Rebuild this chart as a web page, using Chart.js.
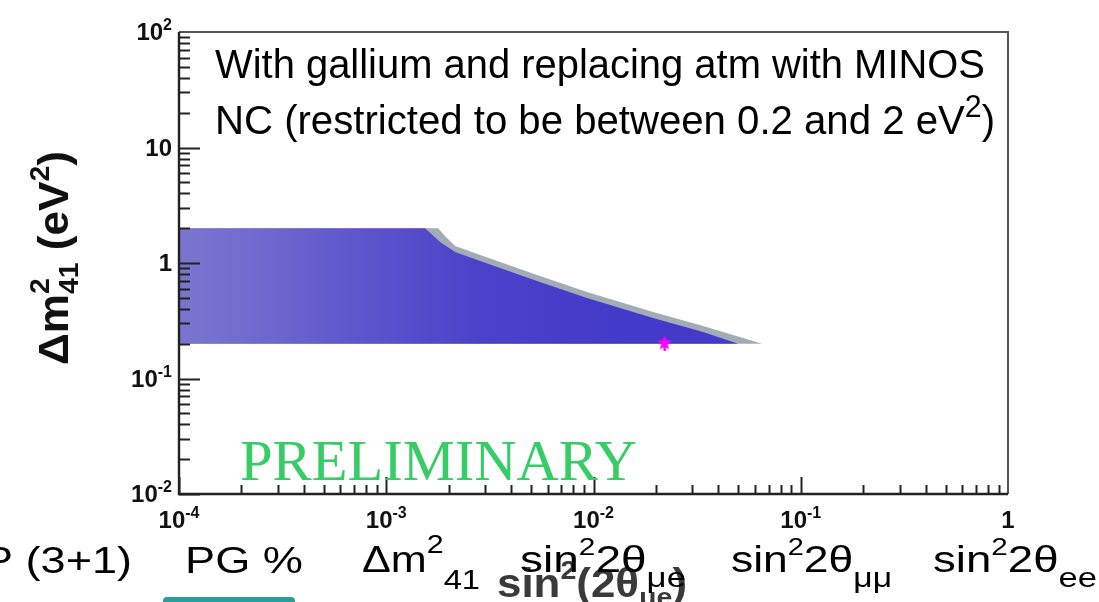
<!DOCTYPE html>
<html><head><meta charset="utf-8">
<script src="https://cdn.jsdelivr.net/npm/chart.js@4.4.1/dist/chart.umd.min.js"></script>
<style>html,body{margin:0;padding:0;background:#fff;overflow:hidden}canvas{display:block}</style>
</head><body>
<canvas id="c" width="1099" height="602"></canvas>
<script>
// ---- data ----
// outer (grey) edge of the allowed region: sin^2(2theta_mue) vs dm^2_41
const outerEdgeX = [1e-4, 1.78e-3, 1.92e-3, 2.15e-3, 2.84e-3, 5.34e-3, 9.3e-3, 0.0194, 0.0338, 0.0588, 0.065];
const outerEdgeY = [2, 2, 1.71, 1.40, 1.17, 0.787, 0.561, 0.377, 0.285, 0.211, 0.2];
// inner (blue) edge
const innerEdgeX = [1e-4, 1.54e-3, 1.82e-3, 2.15e-3, 2.84e-3, 5.34e-3, 9.3e-3, 0.0194, 0.0338, 0.0498];
const innerEdgeY = [2, 2, 1.52, 1.245, 1.04, 0.698, 0.498, 0.334, 0.253, 0.2];
const lowerBound = 0.2;
// best fit point
const bestFitX = [0.022];
const bestFitY = [0.205];
// axes
const xRange = [1e-4, 1];
const yRange = [1e-2, 1e2];
const xTickValues = [1e-4, 1e-3, 1e-2, 1e-1, 1];
const xTickLabels = [["10","-4"],["10","-3"],["10","-2"],["10","-1"],["1",""]];
const yTickValues = [1e-2, 1e-1, 1, 10, 100];
const yTickLabels = [["10","-2"],["10","-1"],["1",""],["10",""],["10","2"]];

// ---- styles ----
const SANS = '"Liberation Sans", Arial, Helvetica, sans-serif';
const SERIF = '"Liberation Serif", "Times New Roman", serif';
const BLUE = [67, 56, 201];
const SPECKLE = [205, 211, 216];
const GREY = '#a2acb6';
const speckleStopsX = [1e-4, 2e-4, 4e-4, 8e-4, 1.5e-3, 3e-3, 6e-3, 1.5e-2];
const speckleMix = [0.40, 0.34, 0.26, 0.18, 0.12, 0.06, 0.03, 0.01];

function mixColor(f) {
  const c = BLUE.map((b, i) => Math.round(b * (1 - f) + SPECKLE[i] * f));
  return `rgb(${c[0]},${c[1]},${c[2]})`;
}

function blueFill(ctx) {
  const ch = ctx.chart;
  if (!ch.chartArea) return mixColor(0);
  const xs = ch.scales.x;
  const p0 = xs.getPixelForValue(speckleStopsX[0]);
  const p1 = xs.getPixelForValue(speckleStopsX[speckleStopsX.length - 1]);
  const g = ch.ctx.createLinearGradient(p0, 0, p1, 0);
  speckleStopsX.forEach((v, i) => {
    g.addColorStop((xs.getPixelForValue(v) - p0) / (p1 - p0), mixColor(speckleMix[i]));
  });
  return g;
}

// star marker
const starImg = document.createElement('canvas');
starImg.width = 18; starImg.height = 18;
(function () {
  const s = starImg.getContext('2d');
  s.fillStyle = '#ff00ff';
  s.beginPath();
  for (let i = 0; i < 10; i++) {
    const r = i % 2 === 0 ? 8 : 3.4;
    const a = -Math.PI / 2 + i * Math.PI / 5;
    const px = 9 + r * Math.cos(a), py = 9.5 + r * Math.sin(a);
    if (i === 0) s.moveTo(px, py); else s.lineTo(px, py);
  }
  s.closePath(); s.fill();
  s.fillRect(8, 10, 2.5, 8);
})();

// ---- text helper ----
function drawRuns(ctx, list, x0, y0, opts) {
  opts = opts || {};
  ctx.save();
  ctx.fillStyle = opts.color || '#000';
  ctx.textBaseline = 'alphabetic';
  ctx.textAlign = 'left';
  const adv = [];
  let pending = 0;
  list.forEach(r => {
    ctx.font = r.f;
    const w = ctx.measureText(r.t).width;
    if (r.stack) { adv.push(0); pending = w; }
    else { adv.push(Math.max(w, pending)); pending = 0; }
  });
  const total = adv.reduce((a, b) => a + b, 0);
  const s = opts.width ? opts.width / total : 1;
  let sx = x0;
  if (opts.align === 'center') sx = x0 - total * s / 2;
  if (opts.align === 'right') sx = x0 - total * s;
  ctx.translate(sx, y0);
  if (opts.rotate) ctx.rotate(opts.rotate);
  ctx.scale(s, 1);
  let x = 0;
  list.forEach((r, i) => {
    ctx.font = r.f;
    ctx.fillText(r.t, x, r.dy || 0);
    x += adv[i];
  });
  ctx.restore();
}

const decor = {
  id: 'decor',
  afterDraw(chart) {
    const ctx = chart.ctx;
    const a = chart.chartArea;
    const xs = chart.scales.x, ys = chart.scales.y;

    // frame (top/right thinner grey)
    ctx.save();
    ctx.strokeStyle = '#555';
    ctx.lineWidth = 2;
    ctx.beginPath();
    ctx.moveTo(a.left, a.top); ctx.lineTo(a.right, a.top); ctx.lineTo(a.right, a.bottom);
    ctx.stroke();
    ctx.strokeStyle = '#222';
    ctx.lineWidth = 2.4;
    ctx.beginPath();
    ctx.moveTo(a.left, a.top); ctx.lineTo(a.left, a.bottom); ctx.lineTo(a.right, a.bottom);
    ctx.stroke();

    // ticks
    ctx.lineWidth = 2;
    ctx.beginPath();
    for (let d = Math.log10(yRange[0]); d < Math.log10(yRange[1]); d++) {
      for (let m = 1; m <= 9; m++) {
        const py = Math.round(ys.getPixelForValue(m * Math.pow(10, d))) + 0.5;
        ctx.moveTo(a.left, py); ctx.lineTo(a.left + (m === 1 ? 21 : 11), py);
      }
    }
    for (let d = Math.log10(xRange[0]); d < Math.log10(xRange[1]); d++) {
      for (let m = 1; m <= 9; m++) {
        const px = Math.round(xs.getPixelForValue(m * Math.pow(10, d))) + 0.5;
        ctx.moveTo(px, a.bottom); ctx.lineTo(px, a.bottom - (m === 1 ? 17 : 9));
      }
    }
    ctx.stroke();
    ctx.restore();

    // tick labels
    const big = 'bold 24px ' + SANS, small = 'bold 16px ' + SANS;
    xTickValues.forEach((v, i) => {
      const [b, e] = xTickLabels[i];
      const list = [{t: b, f: big}];
      if (e) list.push({t: e, f: small, dy: -10});
      drawRuns(ctx, list, xs.getPixelForValue(v), 528, {align: 'center', color: '#111'});
    });
    yTickValues.forEach((v, i) => {
      const [b, e] = yTickLabels[i];
      const list = [{t: b, f: big}];
      if (e) list.push({t: e, f: small, dy: -10});
      drawRuns(ctx, list, a.left - 7, ys.getPixelForValue(v) + 8, {align: 'right', color: '#111'});
    });

    // y axis title (rotated)
    drawRuns(ctx, [
      {t: 'Δm', f: 'bold 42px ' + SANS},
      {t: '2', f: 'bold 27px ' + SANS, dy: -19, stack: true},
      {t: '41', f: 'bold 27px ' + SANS, dy: 10},
      {t: ' (eV', f: 'bold 42px ' + SANS},
      {t: '2', f: 'bold 27px ' + SANS, dy: -19},
      {t: ')', f: 'bold 42px ' + SANS}
    ], 68, 365, {rotate: -Math.PI / 2, width: 214, color: '#111'});

    // x axis title (bold, partly hidden behind overlay)
    drawRuns(ctx, [
      {t: 'sin', f: 'bold 40px ' + SANS},
      {t: '2', f: 'bold 26px ' + SANS, dy: -18},
      {t: '(2θ', f: 'bold 40px ' + SANS},
      {t: 'μe', f: 'bold 26px ' + SANS, dy: 9},
      {t: ')', f: 'bold 40px ' + SANS}
    ], 497, 597, {width: 190, color: '#3a3a3a'});

    // annotation
    drawRuns(ctx, [{t: 'With gallium and replacing atm with MINOS', f: '41px ' + SANS}],
      215, 78, {width: 770});
    drawRuns(ctx, [
      {t: 'NC (restricted to be between 0.2 and 2 eV', f: '41px ' + SANS},
      {t: '2', f: '31px ' + SANS, dy: -17},
      {t: ')', f: '41px ' + SANS}
    ], 215, 134, {width: 780});

    // PRELIMINARY
    drawRuns(ctx, [{t: 'PRELIMINARY', f: '57px ' + SERIF}], 240, 480, {width: 397, color: '#36cc66'});

    // slide overlay row
    const R = '37px ' + SANS;
    drawRuns(ctx, [{t: 'P (3+1)', f: R}], -17, 573, {width: 149});
    drawRuns(ctx, [{t: 'PG %', f: R}], 185, 573, {width: 118});
    ctx.save();
    ctx.fillStyle = '#2b9e9b';
    ctx.beginPath();
    if (ctx.roundRect) ctx.roundRect(163, 597, 132, 12, 4); else ctx.rect(163, 597, 132, 12);
    ctx.fill();
    ctx.restore();
    drawRuns(ctx, [
      {t: 'Δm', f: R},
      {t: '2', f: '26px ' + SANS, dy: -19},
      {t: '41', f: '28px ' + SANS, dy: 17}
    ], 362, 572, {width: 118});
    const sinRow = (sub) => [
      {t: 'sin', f: R},
      {t: '2', f: '24px ' + SANS, dy: -17},
      {t: '2θ', f: R},
      {t: sub, f: '28px ' + SANS, dy: 15}
    ];
    drawRuns(ctx, sinRow('μe'), 520, 572, {width: 166});
    drawRuns(ctx, sinRow('μμ'), 731, 572, {width: 161});
    drawRuns(ctx, sinRow('ee'), 933, 572, {width: 164});
  }
};

const pts = (xs, ys) => xs.map((x, i) => ({x, y: ys[i]}));

new Chart(document.getElementById('c'), {
  type: 'line',
  data: {
    datasets: [
      {
        label: 'best fit',
        data: pts(bestFitX, bestFitY),
        showLine: false,
        pointStyle: starImg,
        pointRadius: 8,
        order: 1
      },
      {
        label: 'allowed (blue)',
        data: pts(innerEdgeX, innerEdgeY),
        backgroundColor: blueFill,
        borderWidth: 0,
        pointRadius: 0,
        tension: 0,
        fill: {value: lowerBound},
        order: 2
      },
      {
        label: 'allowed (grey)',
        data: pts(outerEdgeX, outerEdgeY),
        backgroundColor: GREY,
        borderWidth: 0,
        pointRadius: 0,
        tension: 0,
        fill: {value: lowerBound},
        order: 3
      }
    ]
  },
  options: {
    responsive: false,
    animation: false,
    devicePixelRatio: 1,
    layout: {padding: {left: 179, right: 91, top: 32, bottom: 108}},
    plugins: {legend: {display: false}, tooltip: {enabled: false}},
    scales: {
      x: {type: 'logarithmic', min: xRange[0], max: xRange[1], display: false},
      y: {type: 'logarithmic', min: yRange[0], max: yRange[1], display: false}
    }
  },
  plugins: [decor]
});
</script>
</body></html>
